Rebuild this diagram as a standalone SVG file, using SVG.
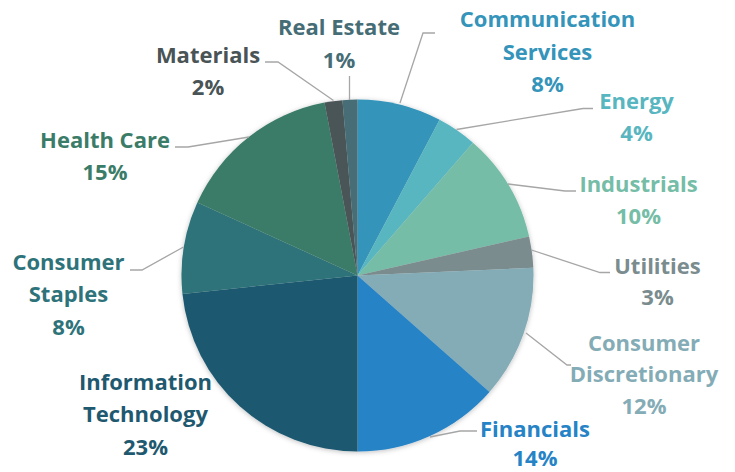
<svg xmlns="http://www.w3.org/2000/svg" width="735" height="472" viewBox="0 0 735 472">
<style>
text{font-family:"Open Sans","Liberation Sans",sans-serif;font-weight:700;font-size:22px;text-anchor:middle}
.lead{fill:none;stroke:#A6A6A6;stroke-width:1.3}
</style>
<defs>
<filter id="sh" x="-10%" y="-10%" width="120%" height="120%">
<feDropShadow dx="0" dy="1" stdDeviation="2.5" flood-color="#000" flood-opacity="0.25"/>
</filter>
</defs>
<rect width="735" height="472" fill="#fff"/>
<g id="pie" filter="url(#sh)">
<g id="communication-services"><path d="M357.5,275.5 L357.5,99.5 A176,176 0 0 1 439.59,119.81 Z" fill="#3494BA"/></g>
<g id="energy"><path d="M357.5,275.5 L439.59,119.81 A176,176 0 0 1 472.97,142.67 Z" fill="#58B6C0"/></g>
<g id="industrials"><path d="M357.5,275.5 L472.97,142.67 A176,176 0 0 1 529.12,236.51 Z" fill="#75BDA7"/></g>
<g id="utilities"><path d="M357.5,275.5 L529.12,236.51 A176,176 0 0 1 533.33,267.82 Z" fill="#7A8C8E"/></g>
<g id="consumer-discretionary"><path d="M357.5,275.5 L533.33,267.82 A176,176 0 0 1 489.52,391.89 Z" fill="#84ACB6"/></g>
<g id="financials"><path d="M357.5,275.5 L489.52,391.89 A176,176 0 0 1 357.5,451.5 Z" fill="#2683C6"/></g>
<g id="information-technology"><path d="M357.5,275.5 L357.5,451.5 A176,176 0 0 1 182.46,293.9 Z" fill="#1F5970"/></g>
<g id="consumer-staples"><path d="M357.5,275.5 L182.46,293.9 A176,176 0 0 1 197.34,202.51 Z" fill="#2E737A"/></g>
<g id="health-care"><path d="M357.5,275.5 L197.34,202.51 A176,176 0 0 1 324.52,102.62 Z" fill="#3B7C68"/></g>
<g id="materials"><path d="M357.5,275.5 L324.52,102.62 A176,176 0 0 1 342.47,100.14 Z" fill="#495456"/></g>
<g id="real-estate"><path d="M357.5,275.5 L342.47,100.14 A176,176 0 0 1 357.5,99.5 Z" fill="#466D76"/></g>
</g>
<g id="connectors">
<polyline class="lead" points="349.5,100 349.5,76"/>
<polyline class="lead" points="333.5,100.5 278,62 265,62"/>
<polyline class="lead" points="249,137 188,147 175,147"/>
<polyline class="lead" points="400,103 423,33 435,33"/>
<polyline class="lead" points="456.5,129.5 583,108.5 593,108.5"/>
<polyline class="lead" points="508,184 565,191 576,191"/>
<polyline class="lead" points="531.5,250 600,272.5 610,272.5"/>
<polyline class="lead" points="526,333 567,365 571,365"/>
<polyline class="lead" points="430,437 460,431 477,431"/>
<polyline class="lead" points="183.5,247 142,270 130,270"/>
</g>
<g id="labels">
<text x="339" y="35" fill="#466D76"><tspan x="339">Real Estate</tspan><tspan x="339" y="68">1%</tspan></text>
<text x="208" y="62.5" fill="#495456"><tspan x="208">Materials</tspan><tspan x="208" y="95">2%</tspan></text>
<text x="547.5" y="27" fill="#3494BA"><tspan x="547.5">Communication</tspan><tspan x="547.5" y="59.5">Services</tspan><tspan x="547.5" y="92">8%</tspan></text>
<text x="636.5" y="109" fill="#58B6C0"><tspan x="636.5">Energy</tspan><tspan x="636.5" y="141">4%</tspan></text>
<text x="638.5" y="192" fill="#75BDA7"><tspan x="638.5">Industrials</tspan><tspan x="638.5" y="223.5">10%</tspan></text>
<text x="657.5" y="273.5" fill="#7A8C8E"><tspan x="657.5">Utilities</tspan><tspan x="657.5" y="305">3%</tspan></text>
<text x="644" y="350.5" fill="#84ACB6"><tspan x="644">Consumer</tspan><tspan x="644" y="382">Discretionary</tspan><tspan x="644" y="414">12%</tspan></text>
<text x="535" y="436.5" fill="#2683C6"><tspan x="535">Financials</tspan><tspan x="535" y="466">14%</tspan></text>
<text x="145.5" y="389.5" fill="#1F5970"><tspan x="145.5">Information</tspan><tspan x="145.5" y="422">Technology</tspan><tspan x="145.5" y="454.5">23%</tspan></text>
<text x="68.5" y="270" fill="#2E737A"><tspan x="68.5">Consumer</tspan><tspan x="68.5" y="302">Staples</tspan><tspan x="68.5" y="335">8%</tspan></text>
<text x="105" y="147.5" fill="#3B7C68"><tspan x="105">Health Care</tspan><tspan x="105" y="180">15%</tspan></text>
</g>
</svg>
